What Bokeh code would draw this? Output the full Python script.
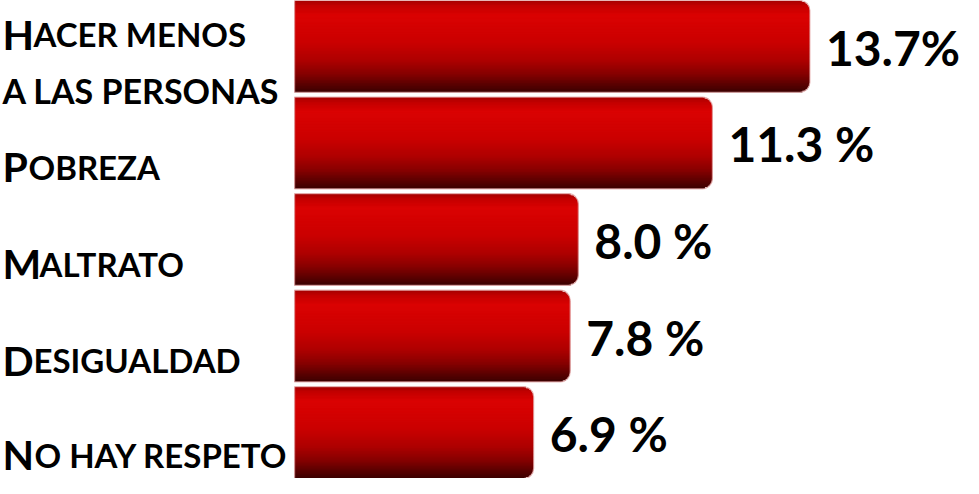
import numpy as np
from bokeh.plotting import figure
from bokeh.models import ColumnDataSource, Range1d
from bokeh.core.properties import value
from bokeh.embed import file_html
from bokeh.resources import INLINE

# ---------------- data ----------------
categories = ["Hacer menos a las personas", "Pobreza", "Maltrato", "Desigualdad", "No hay respeto"]
values = [13.7, 11.3, 8.0, 7.8, 6.9]
value_labels = ["13.7%", "11.3 %", "8.0 %", "7.8 %", "6.9 %"]

# small-caps rendering of the category labels (initial capital + smaller capitals)
label_row = [0, 0, 1, 2, 3, 4]
label_line = [0, 1, 0, 0, 0, 0]
label_initial = ["H", "", "P", "M", "D", "N"]
label_rest = ["ACER MENOS", "A LAS PERSONAS", "OBREZA", "ALTRATO", "ESIGUALDAD", "O HAY RESPETO"]

# ---------------- style ----------------
W, H = 963, 478
FONT = "Lato"
BIG, SMALL, SMALL2, VAL = 41, 33, 34, 48
INITIAL_W = {"H": 31, "P": 26, "M": 37, "D": 31, "N": 32, "": 0}
X_START, X_END = -6.222, 17.48
BAR_START = 1.016
BAR_H = 0.95
Y_START, Y_END = 4.475, -0.475
R_PX = 10
N_STRIPS = 60

stops = [(0.0, (0xa4, 0, 0)), (0.06, (0xc4, 0, 0)), (0.16, (0xda, 0x02, 0x02)),
         (0.45, (0xcb, 0, 0)), (0.65, (0xae, 0, 0)), (0.80, (0x86, 0, 0)),
         (0.92, (0x58, 0, 0)), (1.0, (0x3a, 0, 0))]


def grad(t):
    for (t0, c0), (t1, c1) in zip(stops[:-1], stops[1:]):
        if t0 <= t <= t1:
            f = (t - t0) / (t1 - t0)
            c = [int(round(a + (b - a) * f)) for a, b in zip(c0, c1)]
            return "#%02x%02x%02x" % tuple(c)
    return "#3a0000"


p = figure(width=W, height=H, output_backend="svg", toolbar_location=None,
           x_range=Range1d(X_START, X_END), y_range=Range1d(Y_START, Y_END),
           min_border=0, min_border_left=0, min_border_right=0,
           min_border_top=0, min_border_bottom=0)
p.axis.visible = False
p.grid.visible = False
p.outline_line_color = None
p.background_fill_color = "white"
p.border_fill_color = "white"

ppu_x = W / (X_END - X_START)
ppu_y = H / (Y_START - Y_END)
strip_h = BAR_H / N_STRIPS
strip_px = strip_h * ppu_y
bar_px = BAR_H * ppu_y


def inset_at(d):
    d = max(0.0, min(d, bar_px - d))
    if d >= R_PX:
        return 0.0
    return R_PX - np.sqrt(max(0.0, R_PX ** 2 - (R_PX - d) ** 2))


sx_y, sx_h, sx_r, sx_c = [], [], [], []
for i, v in enumerate(values):
    for k in range(N_STRIPS):
        span = 2 if k < N_STRIPS - 1 else 1
        top_px = k * strip_px
        bot_px = (k + span) * strip_px
        inset = max(inset_at(top_px + 0.3), inset_at(bot_px - 0.3))
        sx_y.append(i - BAR_H / 2 + (k + span / 2) * strip_h)
        sx_h.append(span * strip_h)
        sx_r.append(v - inset / ppu_x)
        sx_c.append(grad((k + 0.5) / N_STRIPS))

strips = ColumnDataSource(dict(y=sx_y, h=sx_h, right=sx_r, color=sx_c))
p.hbar(y="y", left=BAR_START, right="right", height="h", source=strips,
       fill_color="color", line_color=None)

bars = ColumnDataSource(dict(y=list(range(len(values))), right=values))
p.hbar(y="y", left=BAR_START, right="right", height=BAR_H, source=bars,
       fill_color=None, line_color="#e2a6a6", line_width=1.2, line_alpha=0.8,
       border_radius=(0, R_PX, R_PX, 0))

# category labels
n_lines = {r: label_row.count(r) for r in set(label_row)}
base_off, rest_size = [], []
for r, ln in zip(label_row, label_line):
    if n_lines[r] == 1:
        base_off.append(22 if r == len(values) - 1 else 24)
        rest_size.append(f"{SMALL}px")
    else:
        base_off.append([-12, 44][ln])
        rest_size.append(f"{SMALL}px" if ln == 0 else f"{SMALL2}px")

lab = ColumnDataSource(dict(
    x=[X_START] * len(label_row), y=label_row,
    init=label_initial, rest=label_rest, rsize=rest_size,
    yoff=base_off, xoff=[INITIAL_W[c] + 2 for c in label_initial]))
p.text(x="x", y="y", text="init", source=lab, x_offset=2, y_offset="yoff",
       text_font=value(FONT), text_font_style="bold", text_font_size=f"{BIG}px",
       text_baseline="alphabetic", text_align="left", text_color="black")
p.text(x="x", y="y", text="rest", source=lab, x_offset="xoff", y_offset="yoff",
       text_font=value(FONT), text_font_style="bold", text_font_size="rsize",
       text_baseline="alphabetic", text_align="left", text_color="black")

# value labels
vals = ColumnDataSource(dict(x=values, y=list(range(len(values))), t=value_labels))
p.text(x="x", y="y", text="t", source=vals, x_offset=16, y_offset=1,
       text_font=value(FONT), text_font_style="bold", text_font_size=f"{VAL}px",
       text_baseline="middle", text_align="left", text_color="black")

open("out.html", "w").write(file_html(p, INLINE))
